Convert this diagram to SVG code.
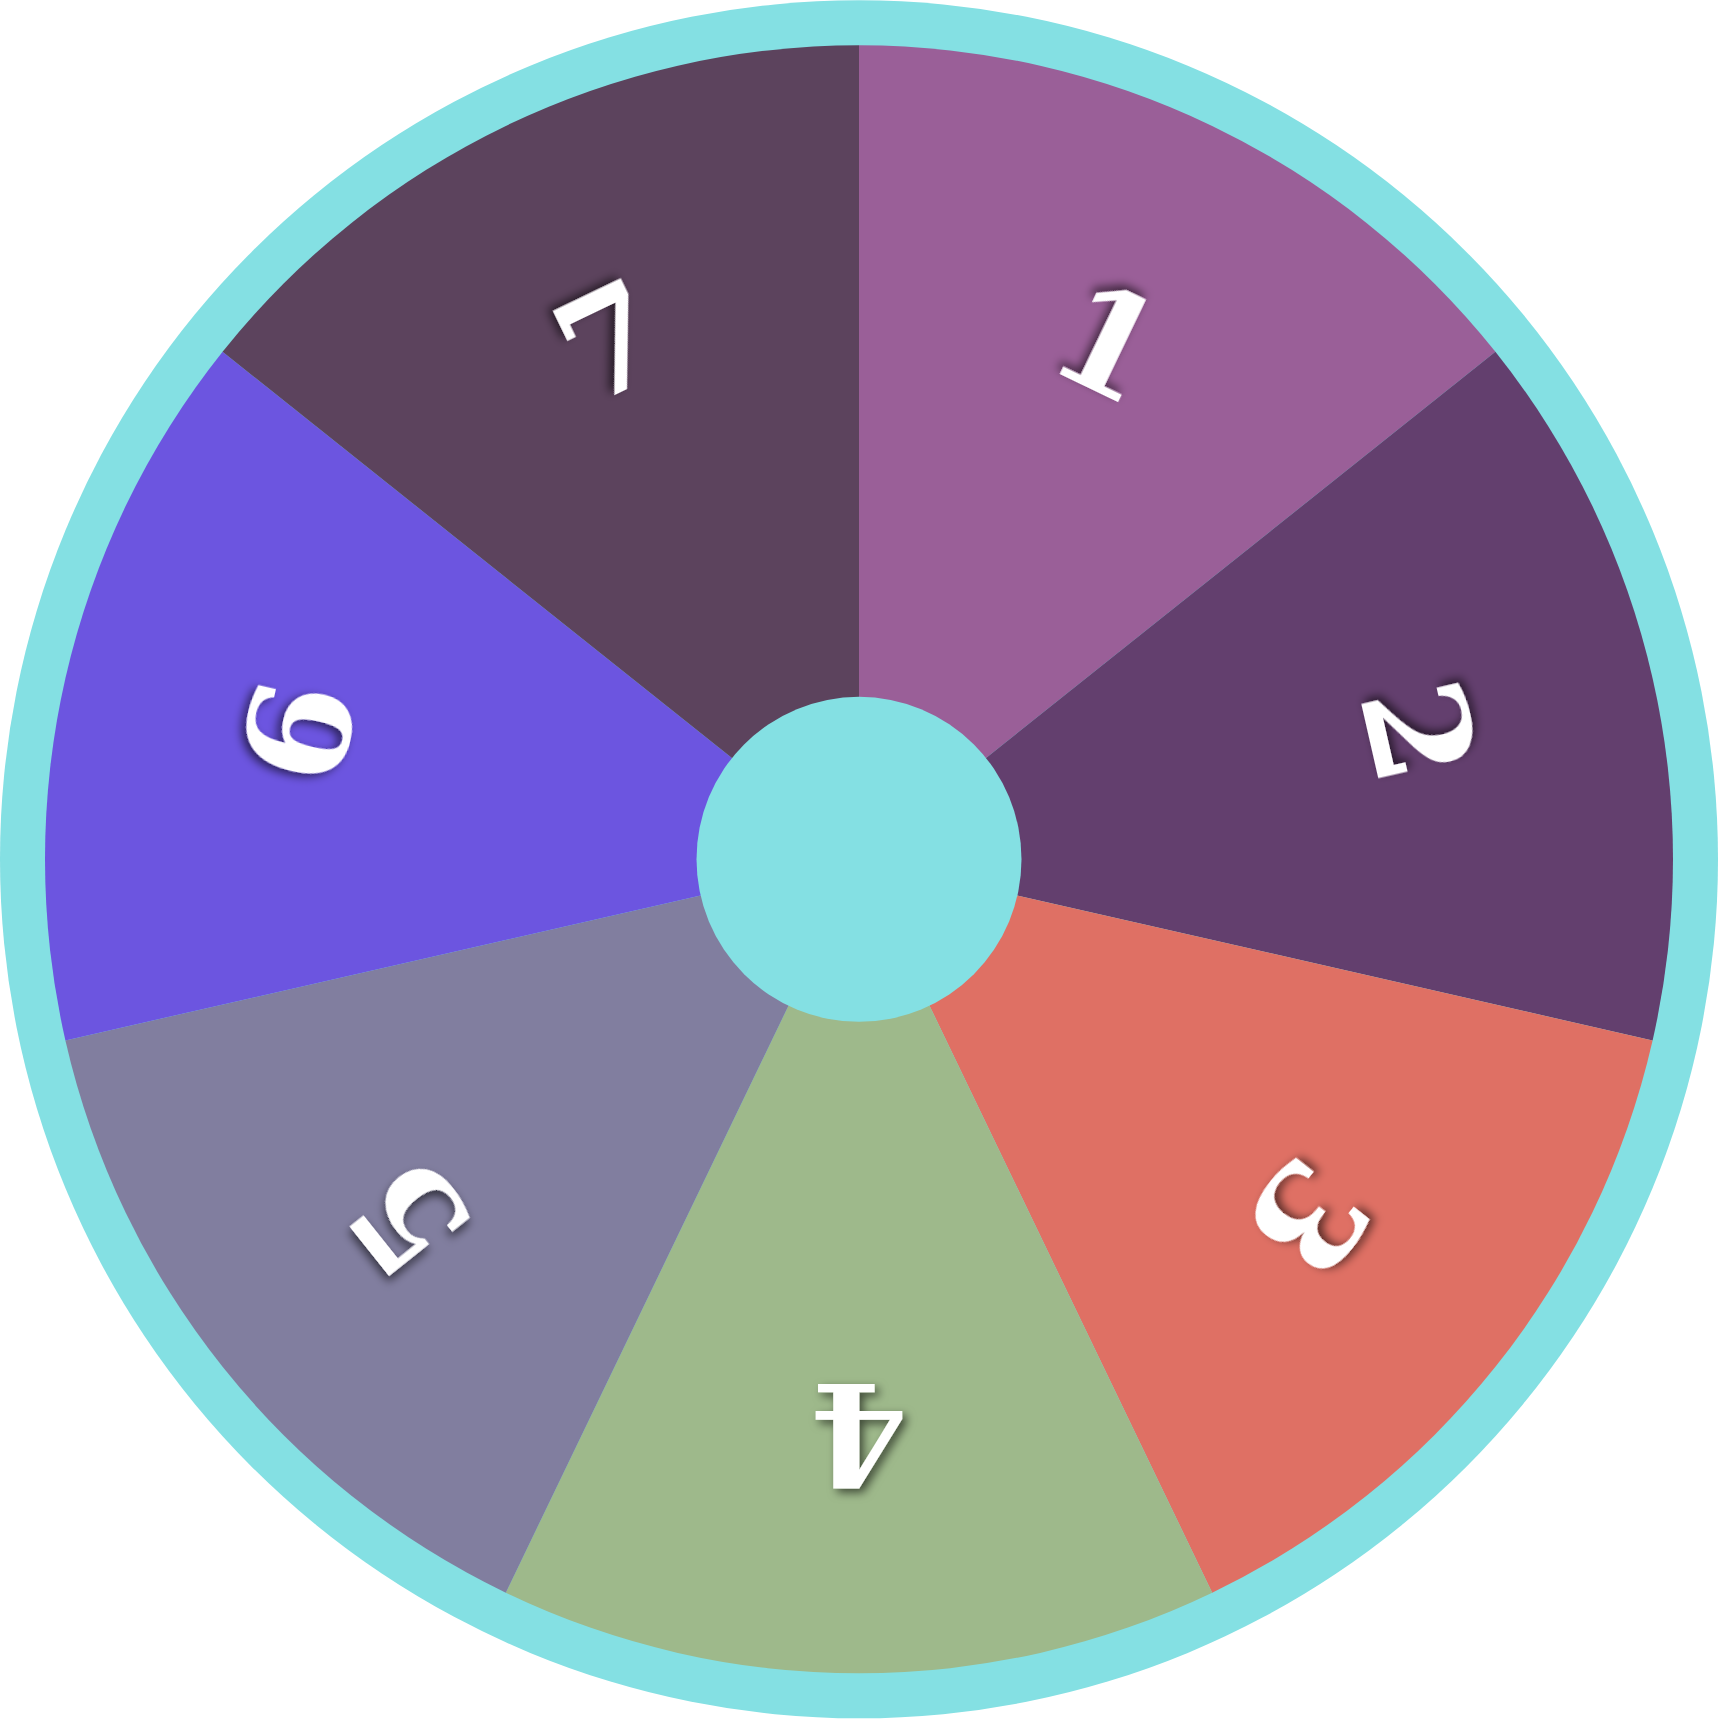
<svg xmlns="http://www.w3.org/2000/svg" width="1718" height="1719" viewBox="0 0 1718 1719">
<style>
.lbl{font-family:"DejaVu Serif","Liberation Serif",serif;font-weight:bold;font-size:141px;fill:#ffffff;text-anchor:middle;filter:url(#sh)}
</style>
<defs>
<filter id="sh" x="-50%" y="-50%" width="200%" height="200%">
<feDropShadow dx="-4" dy="-4" stdDeviation="5" flood-color="#000000" flood-opacity="0.6"/>
</filter>
</defs>
<rect width="1718" height="1719" fill="#ffffff"/>
<circle id="ring" cx="859" cy="859.3" r="859" fill="#84e0e3"/>
<g id="seg1"><path d="M859 859.3 L859 45.3 A814 814 0 0 1 1495.41 351.78 Z" fill="#9a5f98"/><text class="lbl" x="859" y="334.8" transform="rotate(25.714 859 859.3)">1</text></g>
<g id="seg2"><path d="M859 859.3 L1495.41 351.78 A814 814 0 0 1 1652.59 1040.43 Z" fill="#633f6e"/></g>
<g id="seg3"><path d="M859 859.3 L1652.59 1040.43 A814 814 0 0 1 1212.18 1592.69 Z" fill="#df7064"/></g>
<g id="seg4"><path d="M859 859.3 L1212.18 1592.69 A814 814 0 0 1 505.82 1592.69 Z" fill="#9eb98b"/></g>
<g id="seg5"><path d="M859 859.3 L505.82 1592.69 A814 814 0 0 1 65.41 1040.43 Z" fill="#817e9f"/></g>
<g id="seg6"><path d="M859 859.3 L65.41 1040.43 A814 814 0 0 1 222.59 351.78 Z" fill="#6c55e0"/></g>
<g id="seg7"><path d="M859 859.3 L222.59 351.78 A814 814 0 0 1 859 45.3 Z" fill="#5c435d"/></g>
<g id="labels">
<text class="lbl" x="859" y="334.8" transform="rotate(77.143 859 859.3)">2</text>
<text class="lbl" x="859" y="334.8" transform="rotate(128.571 859 859.3)">3</text>
<text class="lbl" x="859" y="334.8" transform="rotate(180 859 859.3)">4</text>
<text class="lbl" x="859" y="334.8" transform="rotate(231.429 859 859.3)">5</text>
<text class="lbl" x="859" y="334.8" transform="rotate(282.857 859 859.3)">6</text>
<text class="lbl" x="859" y="334.8" transform="rotate(334.286 859 859.3)">7</text>
</g>
<circle id="hub" cx="859" cy="859.3" r="162.5" fill="#84e0e3"/>
</svg>
